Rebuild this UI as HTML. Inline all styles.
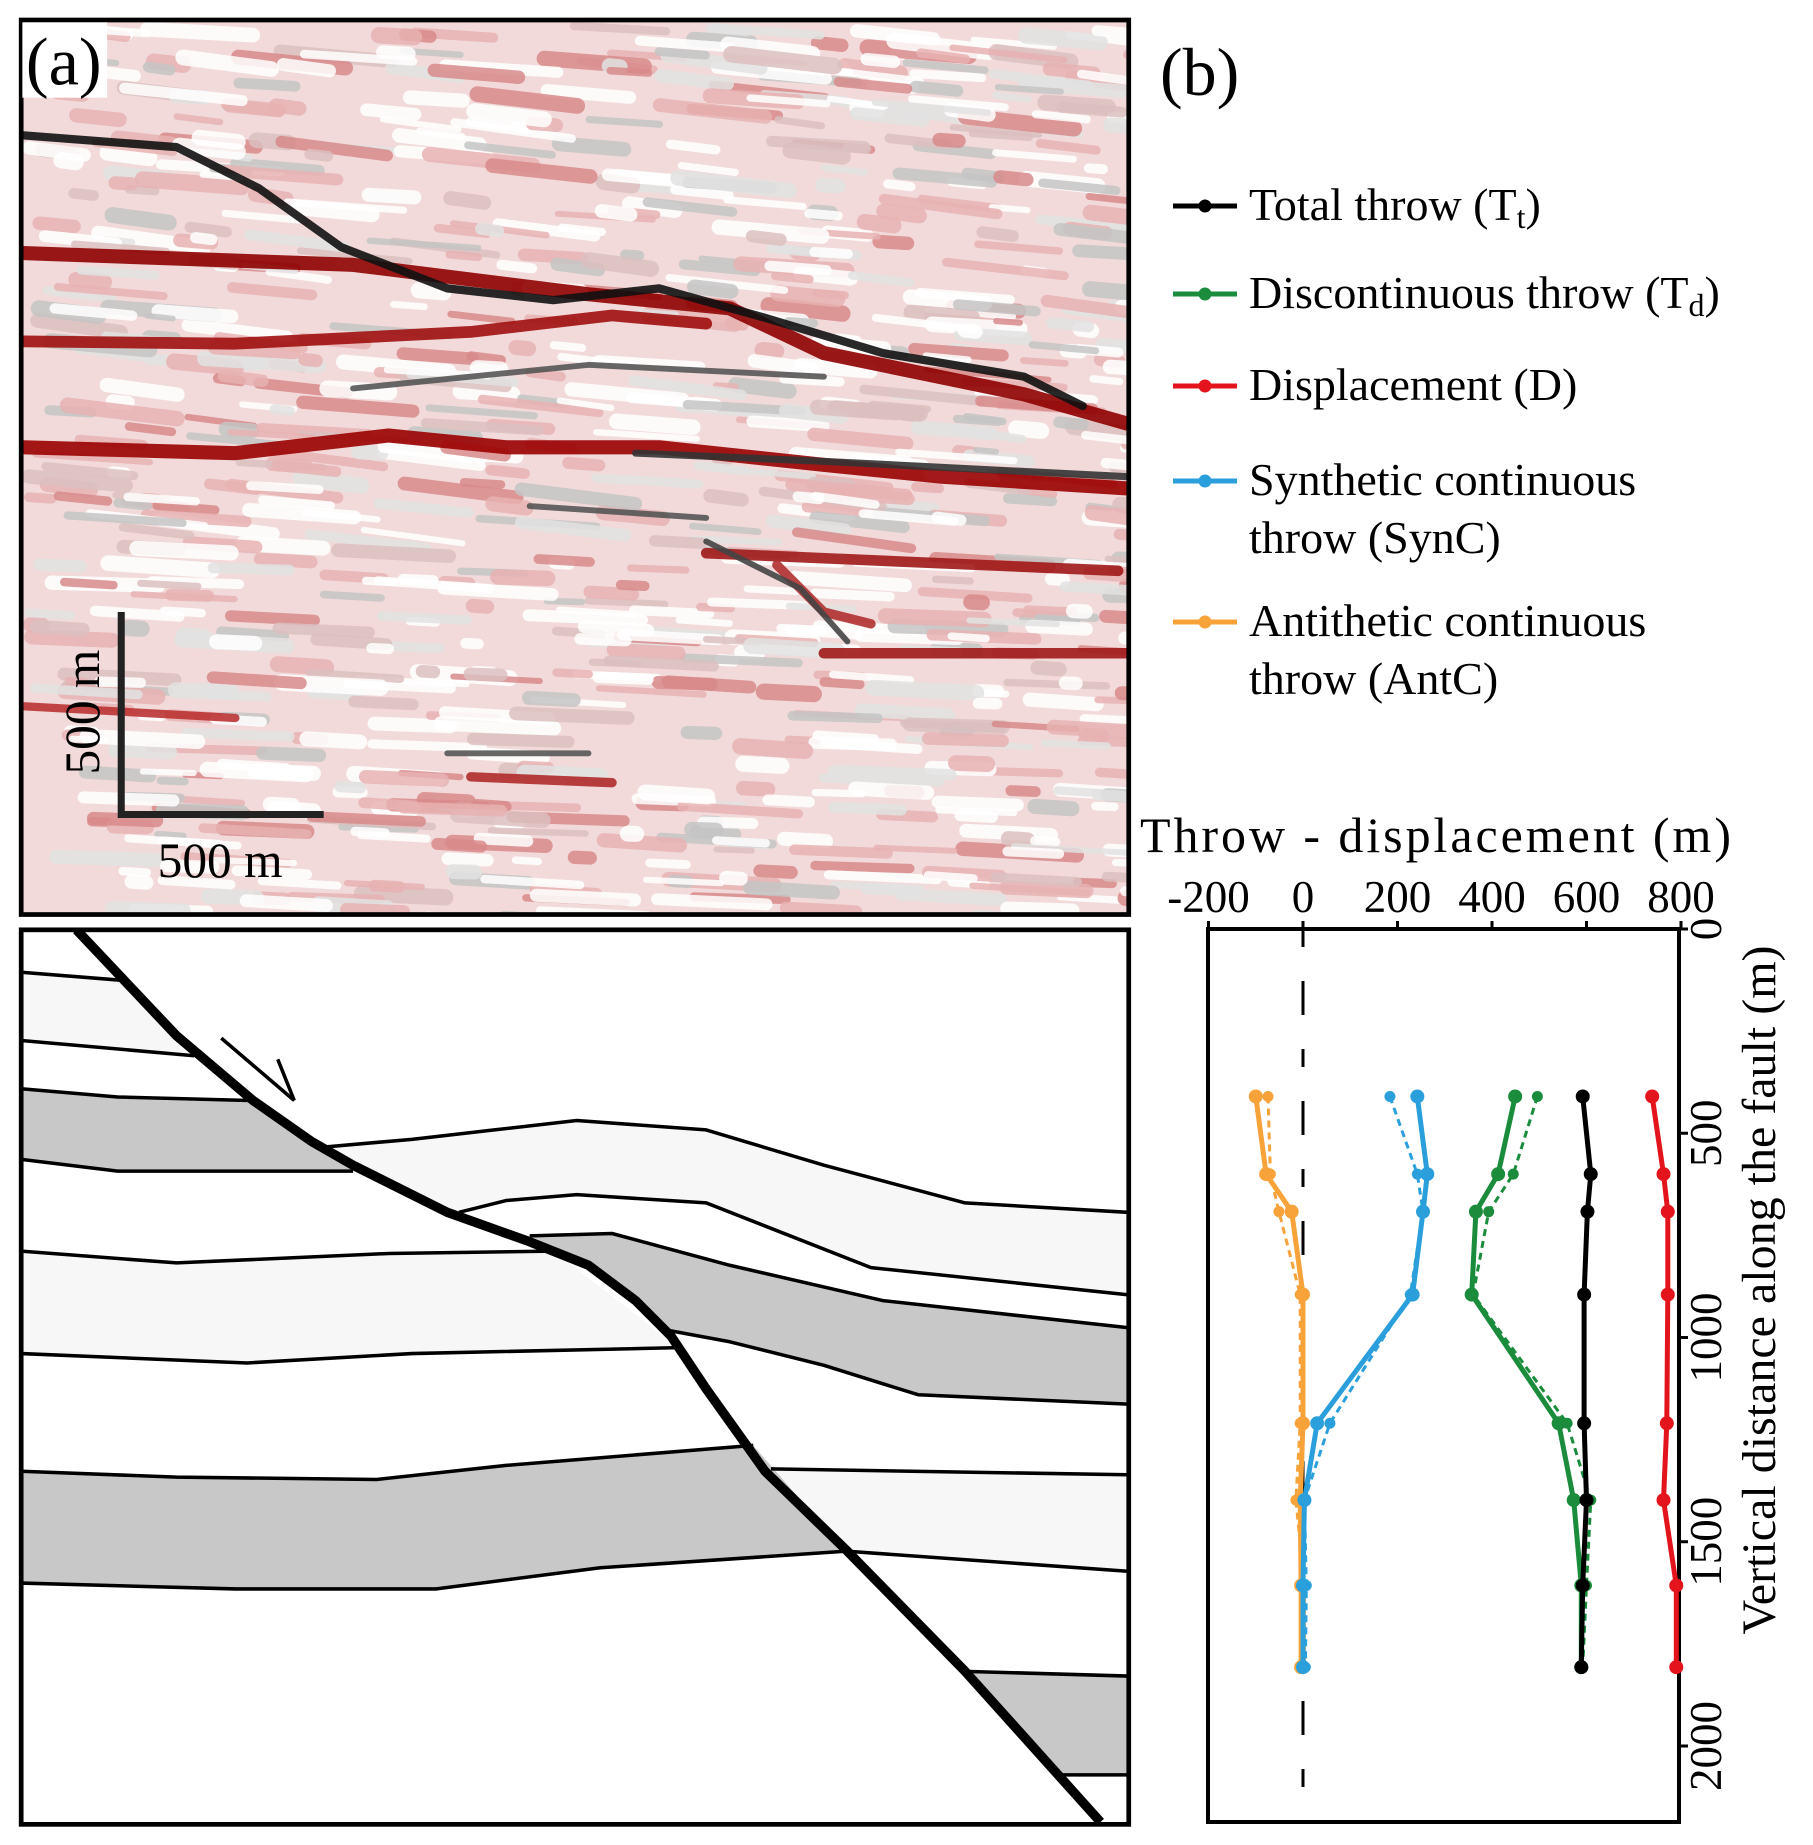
<!DOCTYPE html>
<html><head><meta charset="utf-8">
<style>
html,body{margin:0;padding:0;background:#fff;}
svg{display:block;font-family:"Liberation Serif",serif;}
</style></head>
<body>
<svg id="root" width="1813" height="1845" viewBox="0 0 1813 1845" xmlns="http://www.w3.org/2000/svg">
  <defs>
    <clipPath id="seisClip"><rect x="18" y="17" width="941" height="760"/></clipPath>
    <clipPath id="xsClip"><rect x="18" y="790" width="941" height="760"/></clipPath>
  </defs>
  <g transform="scale(1.177)">
    <g clip-path="url(#seisClip)">
      <rect x="18" y="17" width="941" height="760" fill="#f2dada"/>
      <g id="seisNoise"></g>
      <g id="seisBands" fill="none" stroke-linecap="round" stroke-linejoin="round"></g>
    </g>
    <rect x="18" y="17" width="941" height="760" fill="none" stroke="#000" stroke-width="4"/>
    <rect x="19" y="19" width="72" height="64" fill="#fff"/>
    <text x="22" y="72" font-size="58">(a)</text>
    <g>
      <path d="M103 520 V692 H275" fill="none" stroke="#222" stroke-width="6"/>
      <text x="0" y="0" font-size="42" transform="translate(84 605) rotate(-90)" text-anchor="middle">500 m</text>
      <text x="187" y="745" font-size="42" text-anchor="middle">500 m</text>
    </g>

    <g clip-path="url(#xsClip)">
      <rect x="18" y="790" width="941" height="760" fill="#fff"/>
      <g fill="#f7f7f7">
        <polygon points="18,826 105,833 165,897 18,884"/>
        <polygon points="18,1063 150,1073 330,1065 470,1063 577,1145 350,1150 210,1158 18,1150"/>
        <polygon points="270,975 350,968 420,960 490,952 600,960 700,990 820,1022 958,1030 958,1100 740,1077 600,1022 490,1015 430,1020 390,1030"/>
        <polygon points="655,1248 958,1253 958,1335 720,1318"/>
      </g>
      <g fill="#c8c8c8">
        <polygon points="18,925 100,932 212,935 300,995 100,995 18,985"/>
        <polygon points="18,1250 150,1255 320,1257 430,1245 640,1228 718,1318 510,1332 370,1350 200,1350 18,1345"/>
        <polygon points="450,1050 520,1048 620,1075 750,1105 958,1128 958,1193 780,1185 700,1160 620,1140 566,1130 540,1105 500,1075"/>
        <polygon points="820,1420 958,1424 958,1508 897,1508"/>
      </g>
      <g fill="none" stroke="#000" stroke-width="3" stroke-linejoin="round">
        <polyline points="18,826 105,833"/>
        <polyline points="18,884 165,897"/>
        <polyline points="18,925 100,932 212,935"/>
        <polyline points="18,985 100,995 300,995"/>
        <polyline points="18,1063 150,1073 330,1065 470,1063"/>
        <polyline points="18,1150 210,1158 350,1150 577,1145"/>
        <polyline points="18,1250 150,1255 320,1257 430,1245 640,1228"/>
        <polyline points="18,1345 200,1350 370,1350 510,1332 718,1318"/>
        <polyline points="270,975 350,968 420,960 490,952 600,960 700,990 820,1022 958,1030"/>
        <polyline points="390,1030 430,1020 490,1015 600,1022 740,1077 958,1100"/>
        <polyline points="450,1050 520,1048 620,1075 750,1105 958,1128"/>
        <polyline points="566,1130 620,1140 700,1160 780,1185 958,1193"/>
        <polyline points="655,1248 958,1253"/>
        <polyline points="720,1318 958,1335"/>
        <polyline points="820,1420 958,1424"/>
        <polyline points="897,1508 958,1508"/>
      </g>
      <polyline points="65,790 150,880 215,935 265,970 300,990 380,1030 450,1055 500,1075 540,1105 570,1135 600,1180 650,1250 720,1318 820,1420 935,1548" fill="none" stroke="#000" stroke-width="8" stroke-linejoin="round"/>
      <g fill="none" stroke="#000" stroke-width="3">
        <line x1="188" y1="882" x2="250" y2="935"/>
        <line x1="236" y1="900" x2="250" y2="935"/>
      </g>
    </g>
    <rect x="18" y="790" width="941" height="760" fill="none" stroke="#000" stroke-width="4"/>
  </g>

  <text x="1160" y="95" font-size="68">(b)</text>

  <g id="legend" font-size="46"></g>

  <g id="chart"></g>
</svg>

<script>
// ---------- Chart data ----------
const depths      = [410, 600, 692, 895, 1210, 1398, 1607, 1807];
const totalThrow  = [592, 609, 602, 595, 595, 600, 592, 589];
const displacement= [739, 763, 772, 772, 770, 763, 790, 790];
const discThrow   = [449, 413, 366, 357, 541, 573, 589, 589];
const discThrowDashed = [496, 445, 393, 360, 559, 609, 600, 592];
const synThrow    = [242, 263, 254, 232, 30, 3, 0, 0];
const synThrowDashed = [184, 242, 254, 227, 57, 3, 7, 5];
const antThrow    = [-100, -78, -24, 0, 0, -6, -4, -4];
const antThrowDashed = [-74, -69, -51, -6, -6, -15, 3, 3];
const xTicks      = [-200, 0, 200, 400, 600, 800];
const yTicks      = [0, 500, 1000, 1500, 2000];
const legendLabels = ["Total throw (T", "Discontinuous  throw (T", "Displacement (D)", "Synthetic  continuous", "Antithetic continuous"];

const NS = "http://www.w3.org/2000/svg";
const PL = 1208, PR = 1679, PT = 929, PB = 1822;
function xs(v){ return 1303 + v * 0.4725; }
function ys(m){ return PT + m * 0.4085; }
function mk(tag, attrs, parent){
  const e = document.createElementNS(NS, tag);
  for (const k in attrs) e.setAttribute(k, attrs[k]);
  parent.appendChild(e);
  return e;
}
const chart = document.getElementById('chart');

const frame = mk('rect', {x:PL, y:PT, width:PR-PL, height:PB-PT, fill:'none', stroke:'#000', 'stroke-width':4}, chart);



const zl = mk('line', {x1:xs(0), x2:xs(0), y1:PT, y2:PB, stroke:'#000', 'stroke-width':3, 'stroke-dasharray':'18 34 34 34'}, chart);



xTicks.forEach(v => {
  const t = mk('line', {x1:xs(v), x2:xs(v), y1:PT-8, y2:PT, stroke:'#000', 'stroke-width':3}, chart);
  
  
  const l = mk('text', {x:xs(v), y:912, 'font-size':45, 'text-anchor':'middle'}, chart);
  l.textContent = String(v);
  
  
});
yTicks.forEach(v => {
  const t = mk('line', {x1:PR, x2:PR+9, y1:ys(v), y2:ys(v), stroke:'#000', 'stroke-width':3}, chart);
  
  
  const l = mk('text', {x:0, y:0, 'font-size':45, 'text-anchor':'middle', transform:`translate(${PR+42} ${ys(v)}) rotate(-90)`}, chart);
  l.textContent = String(v);
  
  
});
const xt = mk('text', {x:1140, y:852, 'font-size':50, textLength:591, lengthAdjust:'spacing'}, chart);
xt.textContent = 'Throw -  displacement (m)';


const yt = mk('text', {x:0, y:0, 'font-size':48, 'text-anchor':'middle', transform:`translate(1775 1290) rotate(-90)`}, chart);
yt.textContent = 'Vertical distance along the fault (m)';



function series(vals, color, dashed, name){
  const g = mk('g', {}, chart);
  
  
  const pts = vals.map((v,i) => xs(v).toFixed(1) + ',' + ys(depths[i]).toFixed(1)).join(' ');
  const pl = mk('polyline', {points:pts, fill:'none', stroke:color, 'stroke-width': dashed?3:5, 'stroke-dasharray': dashed?'7 5':'none', 'stroke-linejoin':'round'}, g);
  
  
  vals.forEach((v,i) => {
    const c = mk('circle', {cx:xs(v), cy:ys(depths[i]), r: dashed?5.5:7, fill:color}, g);
    
    
  });
}
const C_BLACK='#000000', C_GREEN='#1a8c3c', C_RED='#e3141c', C_BLUE='#2a9fdc', C_ORANGE='#f8a33a';
series(antThrowDashed, C_ORANGE, true, 'antc-dashed-series');
series(synThrowDashed, C_BLUE, true, 'sync-dashed-series');
series(discThrowDashed, C_GREEN, true, 'td-dashed-series');
series(antThrow, C_ORANGE, false, 'antc-series');
series(synThrow, C_BLUE, false, 'sync-series');
series(discThrow, C_GREEN, false, 'td-series');
series(totalThrow, C_BLACK, false, 'tt-series');
series(displacement, C_RED, false, 'displacement-series');

const legend = document.getElementById('legend');
const legColors = [C_BLACK, C_GREEN, C_RED, C_BLUE, C_ORANGE];
const legBase = [220, 308, 400, 495, 636];
const legSub = ['t', 'd', null, null, null];
const legSecond = [null, null, null, 'throw (SynC)', 'throw (AntC)'];
legendLabels.forEach((lab, i) => {
  const g = mk('g', {}, legend);
  
  
  const ly = legBase[i] - 14;
  mk('line', {x1:1173, x2:1237, y1:ly, y2:ly, stroke:legColors[i], 'stroke-width':5}, g);
  mk('circle', {cx:1205, cy:ly, r:6.5, fill:legColors[i]}, g);
  const t = mk('text', {x:1249, y:legBase[i]}, g);
  t.textContent = lab;
  if (legSub[i]) {
    const s = mk('tspan', {'font-size':32, dy:8}, t); s.textContent = legSub[i];
    const c = mk('tspan', {dy:-8}, t); c.textContent = ')';
  }
  if (legSecond[i]) {
    const t2 = mk('text', {x:1249, y:legBase[i]+58}, g);
    t2.textContent = legSecond[i];
  }
});

// ---------- seismic texture (decorative) ----------
let seed = 12345;
function rnd(){ seed = (seed * 1103515245 + 12345) % 2147483648; return seed / 2147483648; }
const noise = document.getElementById('seisNoise');
const cols = ['#e8b2b2','#e8b2b2','#e2e2e2','#ffffff','#ffffff','#ffffff','#d88a8a','#dcc0c0','#c4c4c4'];
for (let i = 0; i < 900; i++) {
  const x = 18 + rnd()*960, y = 17 + rnd()*770;
  const w = 20 + rnd()*90, h = 5 + rnd()*9;
  const c = cols[Math.floor(rnd()*cols.length)];
  const slope = (y < 450 ? 8 : 4) * (rnd()*0.6+0.4);
  mk('rect', {x:x, y:y, width:w, height:h, rx:h/2, fill:c, opacity:0.85, transform:`rotate(${slope} ${x} ${y})`}, noise);
}
const bands = document.getElementById('seisBands');
const bandDefs = [
  ['#8e0000', 12, '20,215 300,225 500,250 620,262 700,300 870,335 958,360'],
  ['#a01010', 10, '20,290 200,292 400,282 520,268 600,275'],
  ['#9a0000', 12, '20,380 200,385 330,370 430,380 560,380 700,395 800,405 958,415'],
  ['#111111', 7, '20,115 150,125 220,160 290,210 380,245 470,255 560,245 650,270 750,300 870,320 920,345'],
  ['#333333', 6, '540,385 700,392 958,405'],
  ['#a01818', 9, '600,470 950,485'],
  ['#a01818', 9, '700,555 958,555'],
  ['#555555', 5, '300,330 500,310 700,320'],
  ['#b03030', 8, '660,480 700,520 740,530'],
  ['#444444', 5, '600,460 680,500 720,545'],
  ['#b02a2a', 8, '400,660 520,665'],
  ['#555555', 5, '380,640 500,640'],
  ['#b33', 7, '20,600 200,610'],
  ['#555', 5, '450,430 600,440']
];
bandDefs.forEach(b => {
  const p = mk('polyline', {points:b[2], stroke:b[0], 'stroke-width':b[1], opacity:0.9}, bands);
  
  
});
</script>
</body></html>
